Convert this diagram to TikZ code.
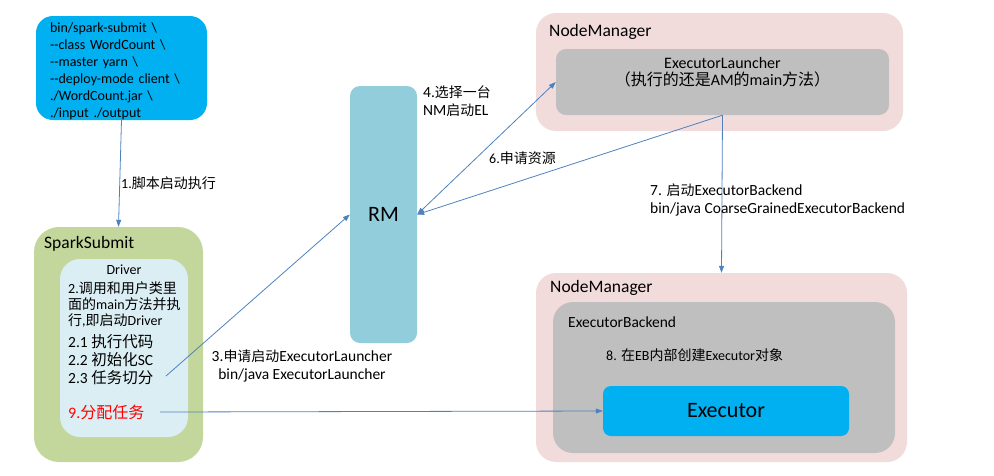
\documentclass[tikz,border=0pt]{standalone}
\usepackage{fontspec}
\setmainfont{Carlito}
\newfontfamily\cjk{Noto Sans CJK SC}
\newfontfamily\cjksmall{Noto Sans CJK SC}[Scale=0.9]
\usetikzlibrary{arrows.meta,positioning}
\newcommand\zh[1]{{\cjk #1}}
\newcommand\dd{-\kern0pt-}
\definecolor{cmdblue}{HTML}{00B0F0}
\definecolor{subgreen}{HTML}{C3D69B}
\definecolor{drvblue}{HTML}{DBEEF4}
\definecolor{rmblue}{HTML}{92CDDC}
\definecolor{nmpink}{HTML}{F2DCDB}
\definecolor{ebgray}{HTML}{BFBFBF}
\definecolor{linkblue}{HTML}{4F81BD}

\begin{document}
\begin{tikzpicture}[x=1pt, y=-1pt, >={Triangle[length=7pt,width=5pt]},
  font=\fontsize{14}{17}\selectfont,
  box/.style={inner sep=0pt, draw=none},
  link/.style={->, draw=linkblue, line width=0.8pt},
  lbl/.style={inner sep=0pt, anchor=west, align=left},
  biglbl/.style={font=\fontsize{15.5}{18}\selectfont\let\cjk\cjksmall}]
%%
  \useasboundingbox (0,0) rectangle (994,475);
  \node (cmd) at (121.5,68) [box, fill=cmdblue, rounded corners=17pt, minimum width=171pt, minimum height=104pt, text width=143pt, align=left]
    {\rule{0pt}{16pt}bin/spark-submit \textbackslash\\ \dd class WordCount \textbackslash\\ \dd master yarn \textbackslash\\ \dd deploy-mode client \textbackslash\\ ./WordCount.jar \textbackslash\\ ./input ./output};
  \node (sub) at (118.5,344.5) [box, fill=subgreen, rounded corners=25pt, minimum width=169pt, minimum height=235pt] {};
  \node (drv) at (124,348) [box, fill=drvblue, rounded corners=20pt, minimum width=128pt, minimum height=178pt] {};
  \node (rm) at (383.5,214.5) [box, fill=rmblue, rounded corners=10pt, minimum width=67pt, minimum height=257pt] {\fontsize{22}{26}\selectfont RM};
  \node (nm1) at (719.5,72) [box, fill=nmpink, rounded corners=20pt, minimum width=367pt, minimum height=118pt] {};
  \node (el) at (722.5,82) [box, fill=ebgray, rounded corners=10pt, minimum width=333pt, minimum height=66pt] {};
  \node (nm2) at (721.5,367.5) [box, fill=nmpink, rounded corners=20pt, minimum width=371pt, minimum height=189pt] {};
  \node (eb) at (724,377.5) [box, fill=ebgray, rounded corners=20pt, minimum width=342pt, minimum height=151pt] {};
  \node (exe) at (726,411) [box, fill=cmdblue, rounded corners=8pt, minimum width=246pt, minimum height=50pt] {\fontsize{22}{26}\selectfont Executor};
%
  \node (subname) at (44,244) [lbl] {\fontsize{17.5}{20}\selectfont SparkSubmit};
  \node (nm1name) at (549,32) [lbl] {\fontsize{17.5}{20}\selectfont NodeManager};
  \node (nm2name) at (550,288) [lbl] {\fontsize{17.5}{20}\selectfont NodeManager};
  \node (drvname) at (124,270) [inner sep=0pt] {Driver};
  \node (d2) at (68,304) [lbl, font=\fontsize{14}{16}\selectfont] {2.\zh{调用和用户类里}\\\zh{面的}main\zh{方法并执}\\\zh{行},\zh{即启动}Driver};
  \node (d21) at (68,342) [lbl, font=\fontsize{15.5}{18}\selectfont] {2.1 \zh{执行代码}};
  \node (d22) at (68,360) [lbl, font=\fontsize{15.5}{18}\selectfont] {2.2 \zh{初始化}SC};
  \node (d23) at (68,378) [lbl, font=\fontsize{15.5}{18}\selectfont] {2.3 \zh{任务切分}};
  \node (d9) at (68,412) [lbl, text=red, font=\fontsize{16}{18}\selectfont] {9.\zh{分配任务}};
  \node (elname) at (722.5,72) [inner sep=0pt, align=center, font=\fontsize{16}{17}\selectfont] {ExecutorLauncher\\\zh{（执行的还是}AM\zh{的}main\zh{方法）}};
  \node (ebname) at (568,322) [lbl, biglbl] {ExecutorBackend};
  \node (s8) at (606,355) [lbl] {8. \zh{在}EB\zh{内部创建}Executor\zh{对象}};
%
  \coordinate (c3) at (166,376);
  \coordinate (c9) at (160,412);
  \draw [link] (cmd.south) -- (sub.north);
  \node (s1) at (121,183) [lbl] {1.\zh{脚本启动执行}};
  \draw [link] (c3) -- (rm.west);
  \node (s3) at (302,366) [inner sep=0pt, align=center, biglbl] {3.\zh{申请启动}ExecutorLauncher\\bin/java ExecutorLauncher};
  \draw [link, <->] (rm.east) -- (el.west);
  \node (s4) at (423,101) [lbl, biglbl] {4.\zh{选择一台}\\NM\zh{启动}EL};
  \draw [link] (el.south) -- (rm.east);
  \node (s6) at (489,158) [lbl] {6.\zh{申请资源}};
  \draw [link] (el.south) -- (nm2.north);
  \node (s7) at (650,200) [lbl, biglbl] {7. \zh{启动}ExecutorBackend\\bin/java CoarseGrainedExecutorBackend};
  \draw [link] (c9) -- (exe.west);
%
\end{tikzpicture}
\end{document}
